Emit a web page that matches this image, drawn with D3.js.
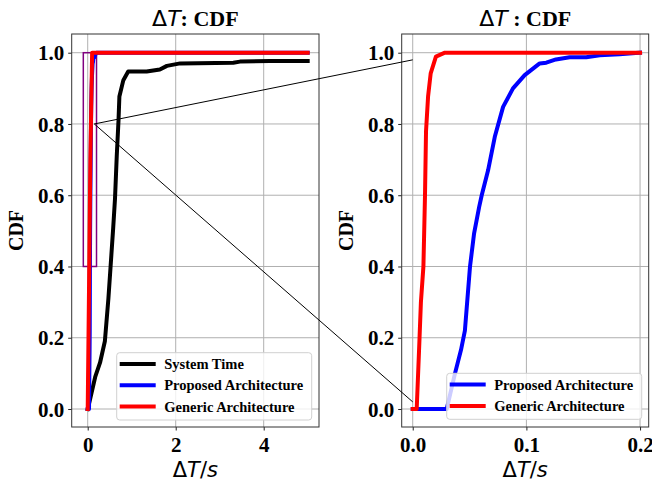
<!DOCTYPE html>
<html>
<head>
<meta charset="utf-8">
<script src="https://cdn.jsdelivr.net/npm/d3@7"></script>
<style>
  body { margin: 0; background: #fff; }
  .tick text { font-family: "Liberation Serif", "Times New Roman", serif; font-weight: bold; fill: #000; }
</style>
</head>
<body>
<div id="chart"></div>
<script>
// 1: DATA
const systemTimeX = [0, 0.05, 0.17, 0.28, 0.39, 0.47, 0.52, 0.58, 0.62, 0.66, 0.70, 0.72, 0.81, 0.92, 1.34, 1.64, 1.80, 2.10, 3.31, 3.46, 4.14, 5.0];
const systemTimeY = [0, 0.025, 0.09, 0.13, 0.19, 0.31, 0.40, 0.51, 0.59, 0.71, 0.81, 0.877, 0.923, 0.947, 0.947, 0.953, 0.963, 0.970, 0.972, 0.975, 0.977, 0.977];

const proposedX = [0, 0.0299, 0.0372, 0.0425, 0.0459, 0.0504, 0.054, 0.0585, 0.0607, 0.0663, 0.0722, 0.0795, 0.0882, 0.0985, 0.1117, 0.1175, 0.126, 0.138, 0.1526, 0.1645, 0.182, 0.2];
const proposedY = [0, 0, 0.1, 0.166, 0.22, 0.4, 0.493, 0.568, 0.6, 0.67, 0.764, 0.848, 0.90, 0.937, 0.970, 0.972, 0.981, 0.987, 0.987, 0.993, 0.996, 1.0];

const genericX = [0, 0.0035, 0.006, 0.0072, 0.0094, 0.0108, 0.0117, 0.0135, 0.0158, 0.0204, 0.0283, 0.2];
const genericY = [0, 0, 0.2, 0.3, 0.4, 0.6, 0.78, 0.877, 0.942, 0.989, 1.0, 1.0];

// full-range versions shown in the left panel
const proposedWideX = proposedX.concat([5.0]);
const proposedWideY = proposedY.concat([1.0]);
const genericWideX = [0, 0.035, 0.06, 0.1, 5.0];
const genericWideY = [0, 0.4, 0.7, 1.0, 1.0];

const yTicks = [0, 0.2, 0.4, 0.6, 0.8, 1.0];
const leftXTicks = [0, 2, 4];
const rightXTicks = [0, 0.1, 0.2];

const zoomBox = { x: [-0.1, 0.2], y: [0.4, 1.0] };
const zoomFrom = [0.15, 0.8];
const zoomTo = [[0, 0.98], [0, 0.02]];

// 2: LAYOUT
const W = 652, H = 483;
const plotTop = 34, plotBottom = 427;
const serif = "'Liberation Serif', 'Times New Roman', serif";
const mathFont = "'DejaVu Sans', sans-serif";

const svg = d3.select("#chart").append("svg")
    .attr("width", W)
    .attr("height", H);

const yScale = d3.scaleLinear().domain([-0.0505, 1.0525]).range([plotBottom, plotTop]);
const xLeft = d3.scaleLinear().domain([-0.364, 5.257]).range([71.7, 319]);
const xRight = d3.scaleLinear().domain([-0.0097, 0.2076]).range([401.7, 648.7]);

const zip = (xs, ys) => xs.map((x, i) => [x, ys[i]]);

function panel(id, x, xTicks, xFmt, series, titleSep, legendItems, legendPos) {
    const [x0, x1] = x.range();
    const g = svg.append("g");

    g.append("clipPath").attr("id", "clip-" + id)
        .append("rect").attr("x", x0).attr("y", plotTop).attr("width", x1 - x0).attr("height", plotBottom - plotTop);

    // grid
    g.append("g").selectAll("line").data(xTicks).join("line")
        .attr("x1", d => x(d)).attr("x2", d => x(d))
        .attr("y1", plotTop).attr("y2", plotBottom)
        .attr("stroke", "#b0b0b0").attr("stroke-width", 1);
    g.append("g").selectAll("line").data(yTicks).join("line")
        .attr("x1", x0).attr("x2", x1)
        .attr("y1", d => yScale(d)).attr("y2", d => yScale(d))
        .attr("stroke", "#b0b0b0").attr("stroke-width", 1);

    const plot = g.append("g").attr("clip-path", `url(#clip-${id})`);

    if (id === "left") {
        plot.append("rect")
            .attr("x", x(zoomBox.x[0]))
            .attr("y", yScale(zoomBox.y[1]))
            .attr("width", x(zoomBox.x[1]) - x(zoomBox.x[0]))
            .attr("height", yScale(zoomBox.y[0]) - yScale(zoomBox.y[1]))
            .attr("fill", "none")
            .attr("stroke", "purple")
            .attr("stroke-width", 1.5);
    }

    const line = d3.line().x(d => x(d[0])).y(d => yScale(d[1]));
    plot.selectAll(".series").data(series).join("path")
        .attr("class", "series")
        .attr("fill", "none")
        .attr("stroke", d => d.color)
        .attr("stroke-width", 4)
        .attr("stroke-linejoin", "round")
        .attr("stroke-linecap", "square")
        .attr("d", d => line(d.points));

    // axes
    const xAxis = d3.axisBottom(x).tickValues(xTicks).tickFormat(xFmt).tickSize(3.5);
    const ax = g.append("g").attr("transform", `translate(0,${plotBottom})`).call(xAxis);
    ax.select(".domain").remove();
    ax.selectAll("text").attr("y", 25).attr("dy", null).style("font-size", "21px");

    const yAxis = d3.axisLeft(yScale).tickValues(yTicks).tickFormat(d3.format(".1f")).tickSize(3.5);
    const ay = g.append("g").attr("transform", `translate(${x0},0)`).call(yAxis);
    ay.select(".domain").remove();
    ay.selectAll("text").attr("x", -7.5).attr("dy", "0.34em").style("font-size", "21px");
    g.selectAll(".tick line").attr("stroke", "#222").attr("stroke-width", 1);

    // frame
    g.append("rect")
        .attr("x", x0).attr("y", plotTop)
        .attr("width", x1 - x0).attr("height", plotBottom - plotTop)
        .attr("fill", "none").attr("stroke", "#333").attr("stroke-width", 1);

    // title
    const cx = (x0 + x1) / 2;
    const title = g.append("text")
        .attr("x", cx).attr("y", 26)
        .attr("text-anchor", "middle")
        .style("font-size", "22px");
    title.append("tspan").style("font-family", mathFont).text("Δ");
    title.append("tspan").style("font-family", mathFont).style("font-style", "italic").text("T");
    title.append("tspan").style("font-family", serif).style("font-weight", "bold").text(titleSep + "CDF");

    // x label
    const xl = g.append("text")
        .attr("x", cx).attr("y", 476.5)
        .attr("text-anchor", "middle")
        .style("font-family", mathFont)
        .style("font-size", "21px");
    xl.append("tspan").text("Δ");
    xl.append("tspan").style("font-style", "italic").text("T");
    xl.append("tspan").text("/");
    xl.append("tspan").style("font-style", "italic").text("s");

    // y label
    g.append("text")
        .attr("transform", `translate(${x0 - 56},${(plotTop + plotBottom) / 2}) rotate(-90)`)
        .attr("text-anchor", "middle")
        .attr("dy", "0.34em")
        .style("font-family", serif)
        .style("font-weight", "bold")
        .style("font-size", "20px")
        .text("CDF");

    // legend
    const lg = g.append("g").attr("transform", `translate(${legendPos.x},${legendPos.y})`);
    lg.append("rect")
        .attr("width", legendPos.w).attr("height", legendPos.h)
        .attr("rx", 3)
        .attr("fill", "white").attr("fill-opacity", 0.8)
        .attr("stroke", "#d0d0d0").attr("stroke-width", 1);
    const rows = lg.selectAll(".row").data(legendItems).join("g")
        .attr("class", "row")
        .attr("transform", (d, i) => `translate(0,${11.3 + i * 21.3})`);
    rows.append("line")
        .attr("x1", 5).attr("x2", 37)
        .attr("stroke", d => d.color).attr("stroke-width", 4).attr("stroke-linecap", "square");
    rows.append("text")
        .attr("x", 47.5).attr("dy", "0.34em")
        .style("font-family", serif).style("font-weight", "bold").style("font-size", "14.5px")
        .text(d => d.name);
}

// 3: PANELS
panel("left", xLeft, leftXTicks, d3.format("d"),
    [
        { color: "black", points: zip(systemTimeX, systemTimeY) },
        { color: "blue", points: zip(proposedWideX, proposedWideY) },
        { color: "red", points: zip(genericWideX, genericWideY) }
    ],
    ": ",
    [
        { name: "System Time", color: "black" },
        { name: "Proposed Architecture", color: "blue" },
        { name: "Generic Architecture", color: "red" }
    ],
    { x: 116.7, y: 352.7, w: 195, h: 67.3 });

panel("right", xRight, rightXTicks, d3.format(".1f"),
    [
        { color: "blue", points: zip(proposedX, proposedY) },
        { color: "red", points: zip(genericX, genericY) }
    ],
    " : ",
    [
        { name: "Proposed Architecture", color: "blue" },
        { name: "Generic Architecture", color: "red" }
    ],
    { x: 446.7, y: 373.3, w: 195, h: 46 });

// 4: ZOOM CONNECTORS
svg.append("g").selectAll("line").data(zoomTo).join("line")
    .attr("x1", xLeft(zoomFrom[0])).attr("y1", yScale(zoomFrom[1]))
    .attr("x2", d => xRight(d[0])).attr("y2", d => yScale(d[1]))
    .attr("stroke", "black").attr("stroke-width", 1);
</script>
</body>
</html>
